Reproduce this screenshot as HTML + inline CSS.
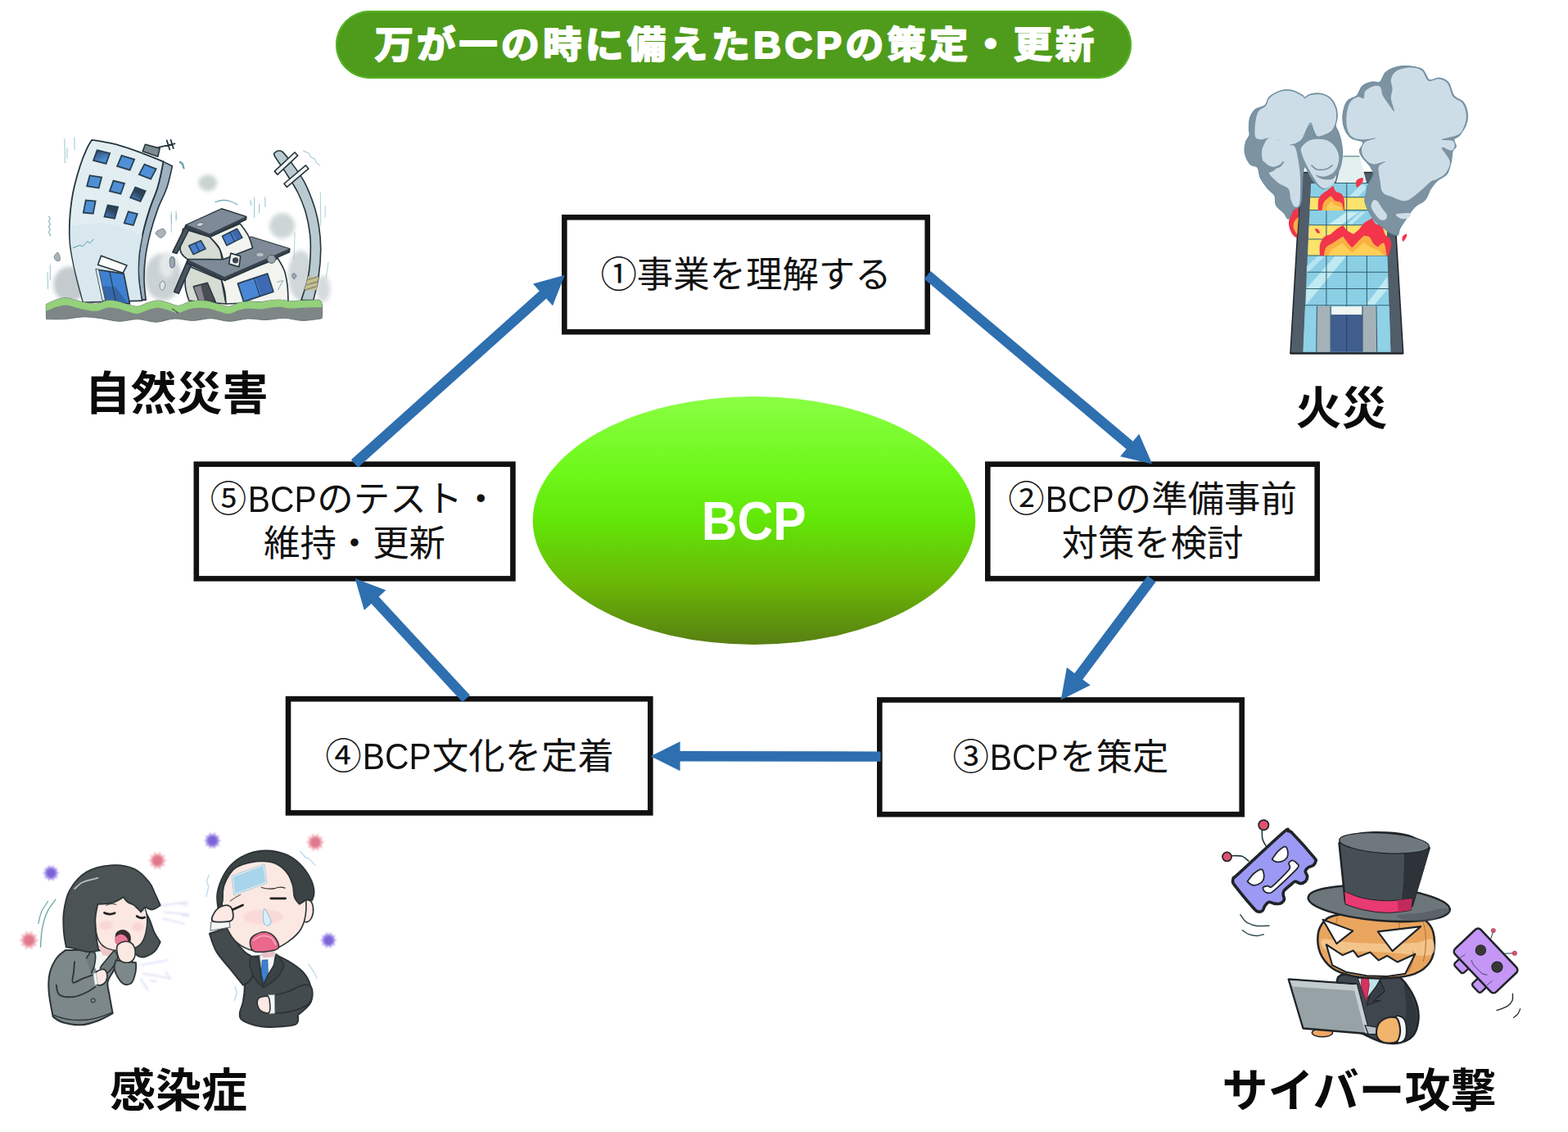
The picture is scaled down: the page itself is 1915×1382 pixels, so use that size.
<!DOCTYPE html>
<html lang="ja">
<head>
<meta charset="utf-8">
<title>万が一の時に備えたBCPの策定・更新</title>
<style>
html,body{margin:0;padding:0;background:#fff;}
body{width:1915px;height:1382px;overflow:hidden;position:relative;
  font-family:"Liberation Sans","Noto Sans CJK JP",sans-serif;color:#111;}
#stage{position:absolute;left:0;top:0;width:1915px;height:1382px;overflow:hidden;background:#fff;}
#geo{position:absolute;left:0;top:0;width:1915px;height:1382px;}
.pill{position:absolute;left:410px;top:13px;width:972px;height:83px;border-radius:42px;
  background:#4f9c1c;box-shadow:inset 0 0 0 2px #54b324;}
.box{position:absolute;display:flex;align-items:center;justify-content:center;text-align:center;
  font-weight:400;font-size:44.4px;line-height:54px;padding-top:2px;box-sizing:border-box;white-space:nowrap;color:#111;}
.lbl{position:absolute;font-weight:700;font-size:56px;line-height:60px;white-space:nowrap;color:#0a0a0a;}
.bcp{position:absolute;left:651px;top:484px;width:540px;height:303px;line-height:303px;text-align:center;
  color:#fff;font-weight:700;font-size:67px;}
.bcp span{display:inline-block;transform:scaleX(0.903);transform-origin:50% 50%;}
.box span{display:block;}
.box i{font-style:normal;display:inline-block;transform:scaleX(.92);margin:0 -2.5px;}
.ill{position:absolute;overflow:visible;}
</style>
</head>
<body>
<div id="stage">

<!-- geometric layer: boxes, ellipse, arrows -->
<svg id="geo" width="1915" height="1382" viewBox="0 0 1915 1382">
  <defs>
    <linearGradient id="eg" x1="0" y1="0" x2="0" y2="1">
      <stop offset="0" stop-color="#8aff45"/>
      <stop offset="0.3" stop-color="#6ef81a"/>
      <stop offset="0.5" stop-color="#62e608"/>
      <stop offset="0.75" stop-color="#6ab806"/>
      <stop offset="1" stop-color="#587f12"/>
    </linearGradient>
  </defs>
  <ellipse cx="921" cy="635.5" rx="270.3" ry="151.4" fill="url(#eg)"/>
  <g fill="#fff" stroke="#111" stroke-width="6.6">
    <rect x="689.3" y="265.3" width="443.4" height="139.9"/>
    <rect x="1206.3" y="566.7" width="402.4" height="139.7"/>
    <rect x="1074.3" y="854.5" width="442.4" height="139.7"/>
    <rect x="352" y="853.3" width="442.3" height="139.1"/>
    <rect x="239.8" y="566.7" width="386.6" height="139.7"/>
  </g>
  <g id="arrows" fill="#2e6fb0" stroke="none">
    <polygon points="437.2,570.7 667.2,364.5 675.0,373.2 689.8,335.8 651.0,346.4 658.8,355.2 428.8,561.3"/>
    <polygon points="1128.6,340.6 1375.6,548.2 1368.1,557.2 1407.2,566.6 1391.2,529.7 1383.7,538.7 1136.6,331.0"/>
    <polygon points="1401.5,703.0 1312.3,821.9 1302.9,814.8 1295.7,854.4 1331.7,836.4 1322.3,829.4 1411.5,710.6"/>
    <polygon points="1075.5,917.4 830.6,917.1 830.6,905.3 794.6,923.3 830.6,941.3 830.6,929.6 1075.5,929.8"/>
    <polygon points="574.0,848.8 462.6,728.5 471.3,720.5 433.6,706.3 444.8,744.9 453.5,737.0 564.8,857.2"/>
  </g>
</svg>

<svg class="ill" width="1915" height="1382" viewBox="0 0 1915 1382" style="left:0;top:0;">
<!-- QUAKE -->
<defs><filter id="qblur" x="-20%" y="-20%" width="140%" height="140%"><feGaussianBlur stdDeviation="14"/></filter><linearGradient id="wgA" x1="0" y1="0" x2="1" y2="1"><stop offset="0" stop-color="#2f4a66"/><stop offset="0.75" stop-color="#4f8fd6"/></linearGradient><linearGradient id="wgB" x1="0.6" y1="0" x2="0.3" y2="1"><stop offset="0.35" stop-color="#2e4257"/><stop offset="1" stop-color="#3f76b8"/></linearGradient></defs>
<g transform="translate(40 150) scale(0.18083)" >
<g filter="url(#qblur)">
<ellipse cx="250" cy="1090" rx="110" ry="120" fill="#c3cbce"/>
<ellipse cx="880" cy="1040" rx="125" ry="160" fill="#cbd2d5"/>
<ellipse cx="1182" cy="405" rx="62" ry="55" fill="#c8d3d1"/>
<ellipse cx="1685" cy="695" rx="85" ry="85" fill="#ccd6d5"/>
<ellipse cx="1810" cy="1030" rx="85" ry="170" fill="#d0d7d9"/>
<ellipse cx="1960" cy="1120" rx="50" ry="90" fill="#d5dbdd"/>
<ellipse cx="905" cy="960" rx="50" ry="90" fill="#e3e8e8"/>
</g>
<path d="M882 262C882 262 942 292 942 292C942 292 921.2 392 905 440C888.8 488 863.3 530 845 580C826.7 630 808.8 686.7 795 740C781.2 793.3 769.2 848.3 762 900C754.8 951.7 751.7 1000.8 752 1050C752.3 1099.2 764 1195 764 1195C764 1195 735 1195 735 1195C735 1195 718.8 1099.2 716 1050C713.2 1000.8 713.2 951.7 718 900C722.8 848.3 733 793.3 745 740C757 686.7 773.3 631.7 790 580C806.7 528.3 829.7 483 845 430C860.3 377 882 262 882 262Z" fill="#9db1c0" stroke="#27363d" stroke-width="9" stroke-linejoin="round"/>
<path d="M400 115C400 115 503.3 130 560 145C616.7 160 686.3 185.5 740 205C793.7 224.5 882 262 882 262C882 262 860.3 377 845 430C829.7 483 806.7 528.3 790 580C773.3 631.7 757 686.7 745 740C733 793.3 722.8 848.3 718 900C713.2 951.7 712.7 1000 716 1050C719.3 1100 738 1200 738 1200C738 1200 340 1212 340 1212C340 1212 299.7 1065.3 285 1000C270.3 934.7 257.8 878.3 252 820C246.2 761.7 246.7 708.3 250 650C253.3 591.7 260.3 530 272 470C283.7 410 304.5 339.2 320 290C335.5 240.8 351.7 204.2 365 175C378.3 145.8 400 115 400 115Z" fill="#e2edf2" stroke="#27363d" stroke-width="10" stroke-linejoin="round"/>
<path d="M255 700C255 700 419.2 670 500 680C580.8 690 740 760 740 760C740 760 720.3 851.7 716 900C711.7 948.3 711 1000.7 714 1050C717 1099.3 734 1196 734 1196C734 1196 342 1208 342 1208C342 1208 301.5 1064.7 287 1000C272.5 935.3 260.3 870 255 820C249.7 770 255 700 255 700Z" fill="#d7e6ee" opacity=".8"/>
<rect x="-44" y="-37" width="88" height="74" fill="url(#wgA)" stroke="#27404f" stroke-width="10" transform="translate(465 230) rotate(14) skewX(-6)"/>
<rect x="-45" y="-39" width="90" height="77" fill="#4f8fd6" stroke="#27404f" stroke-width="10" transform="translate(628 270) rotate(17) skewX(-6)"/>
<rect x="-42" y="-39" width="85" height="77" fill="#4f8fd6" stroke="#27404f" stroke-width="10" transform="translate(775 330) rotate(22) skewX(-6)"/>
<rect x="-40" y="-37" width="81" height="74" fill="#4f8fd6" stroke="#27404f" stroke-width="10" transform="translate(415 397) rotate(9) skewX(-6)"/>
<rect x="-39" y="-37" width="77" height="74" fill="#4f8fd6" stroke="#27404f" stroke-width="10" transform="translate(570 435) rotate(14) skewX(-6)"/>
<rect x="-36" y="-39" width="72" height="77" fill="url(#wgB)" stroke="#27404f" stroke-width="10" transform="translate(710 483) rotate(20) skewX(-6)"/>
<rect x="-33" y="-42" width="66" height="85" fill="#4f8fd6" stroke="#27404f" stroke-width="10" transform="translate(383 567) rotate(5) skewX(-6)"/>
<rect x="-35" y="-40" width="70" height="81" fill="url(#wgB)" stroke="#27404f" stroke-width="10" transform="translate(530 600) rotate(10) skewX(-6)"/>
<rect x="-31" y="-40" width="63" height="81" fill="#4f8fd6" stroke="#27404f" stroke-width="10" transform="translate(662 645) rotate(14) skewX(-6)"/>
<path d="M760 145L858 172L845 228L742 192Z" fill="#7c8a92" stroke="#27363d" stroke-width="9" stroke-linejoin="round"/>
<path d="M850 165 L960 140 M905 118 L925 180 M932 115 L950 172" stroke="#27363d" stroke-width="10" fill="none" stroke-linecap="round"/>
<path d="M430 990L615 1018L655 1222L475 1200Z" fill="#3f80d2" stroke="#27363d" stroke-width="9" stroke-linejoin="round"/>
<path d="M470 1100L560 1110L640 1215L480 1198Z" fill="#2f5c96" opacity=".7"/>
<path d="M518 1000 L560 1205" stroke="#27404f" stroke-width="7" fill="none"/>
<path d="M425 985L445 990L490 1200L470 1200Z" fill="#e2edf2" stroke="#27363d" stroke-width="4" stroke-linejoin="round"/>
<path d="M462 897L636 962L610 1013L440 958Z" fill="#fbfcfc" stroke="#27363d" stroke-width="9" stroke-linejoin="round"/>
<path d="M270 845 L320 825 L335 835 L370 800 L385 812 L412 785" stroke="#4f8f9a" stroke-width="5" fill="none" stroke-linejoin="round"/>
<path d="M1035 960C1035 960 1275 1060 1275 1060C1275 1060 1305 1222 1305 1222C1305 1222 1055 1200 1055 1200C1055 1200 1033.3 1140 1030 1100C1026.7 1060 1035 960 1035 960Z" fill="#d6dbd3" stroke="#27363d" stroke-width="9" stroke-linejoin="round"/>
<path d="M1275 1060C1275 1060 1655 915 1655 915C1655 915 1689.2 969.2 1700 1000C1710.8 1030.8 1715.8 1065.8 1720 1100C1724.2 1134.2 1725 1205 1725 1205C1725 1205 1305 1222 1305 1222C1305 1222 1302 1167 1297 1140C1292 1113 1275 1060 1275 1060Z" fill="#f3f4ef" stroke="#27363d" stroke-width="9" stroke-linejoin="round"/>
<path d="M1385 1085L1585 1018L1625 1140L1425 1208Z" fill="#4a86d6" stroke="#27404f" stroke-width="10" stroke-linejoin="round"/>
<path d="M1505 1050L1585 1020L1623 1138L1545 1165Z" fill="#35589a" opacity=".6"/>
<path d="M1495 1050 L1535 1170" stroke="#27404f" stroke-width="7" fill="none"/>
<path d="M1085 1105L1180 1080L1235 1210L1120 1200Z" fill="#4b4b54" stroke="#27363d" stroke-width="8" stroke-linejoin="round"/>
<path d="M1090 1110L1135 1098L1160 1200L1123 1198Z" fill="#8a8690"/>
<path d="M1045 928L955 1140L985 1152L1075 950Z" fill="#4a5561" stroke="#27363d" stroke-width="9" stroke-linejoin="round"/>
<path d="M1045 928L1475 770L1735 850L1733 872L1297 1065L1045 950Z" fill="#39424c" stroke="#27363d" stroke-width="9" stroke-linejoin="round"/>
<path d="M1053 925L1475 772L1730 850L1295 1040Z" fill="#7e8a97"/>
<path d="M1015 715C1015 715 1195 770 1195 770C1195 770 1246.3 824.7 1260 850C1273.7 875.3 1277 922 1277 922C1277 922 1045 920 1045 920C1045 920 1002 896.2 997 862C992 827.8 1015 715 1015 715Z" fill="#d6dbd3" stroke="#27363d" stroke-width="9" stroke-linejoin="round"/>
<path d="M1195 770C1195 770 1400 680 1400 680C1400 680 1440.8 732.5 1455 760C1469.2 787.5 1485 845 1485 845C1485 845 1285 922 1285 922C1285 922 1272 865.3 1257 840C1242 814.7 1195 770 1195 770Z" fill="#f3f4ef" stroke="#27363d" stroke-width="9" stroke-linejoin="round"/>
<path d="M1055 830L1135 795L1167 850L1085 888Z" fill="#4a7fd0" stroke="#27404f" stroke-width="9" stroke-linejoin="round"/>
<path d="M1097 812 L1125 868" stroke="#27404f" stroke-width="7" fill="none"/>
<path d="M1280 765L1380 715L1415 775L1310 828Z" fill="#4a7fd0" stroke="#27404f" stroke-width="9" stroke-linejoin="round"/>
<path d="M1345 735L1380 717L1413 775L1377 792Z" fill="#35589a" opacity=".6"/>
<path d="M1333 740 L1363 800" stroke="#27404f" stroke-width="7" fill="none"/>
<path d="M1035 690L945 873L973 882L1060 712Z" fill="#4a5561" stroke="#27363d" stroke-width="9" stroke-linejoin="round"/>
<path d="M1035 690L1275 580L1442 633L1440 652L1197 770L1035 712Z" fill="#39424c" stroke="#27363d" stroke-width="9" stroke-linejoin="round"/>
<path d="M1043 688L1275 583L1435 634L1195 748Z" fill="#7e8a97"/>
<ellipse cx="1130" cy="686" rx="24" ry="13" fill="#c9d0d4" stroke="#4a5561" stroke-width="4" transform="rotate(-12 1130 686)"/>
<ellipse cx="1535" cy="890" rx="26" ry="15" fill="#b5bec5" stroke="#6a7580" stroke-width="4"/>
<circle cx="1612" cy="920" r="28" fill="#96a2a8" stroke="#4a5561" stroke-width="5"/>
<path d="M1337 880L1403 900L1393 972L1325 952Z" fill="#eef1f0" stroke="#27363d" stroke-width="9" stroke-linejoin="round"/>
<circle cx="1369" cy="928" r="20" fill="#3c434a"/>
<path d="M1650 1075 L1690 1065 L1675 1095 L1655 1130" stroke="#5a8f98" stroke-width="4" fill="none"/>
<path d="M1633 222C1622.2 200 1634.7 203.7 1640 198C1645.3 192.3 1656.5 187.7 1665 188C1673.5 188.3 1676 184.7 1691 200C1706 215.3 1731 246.7 1755 280C1779 313.3 1810.8 353.3 1835 400C1859.2 446.7 1883.7 510 1900 560C1916.3 610 1925.5 650 1933 700C1940.5 750 1945.5 803.3 1945 860C1944.5 916.7 1938.3 983.7 1930 1040C1921.7 1096.3 1895 1198 1895 1198C1895 1198 1813 1198 1813 1198C1813 1198 1849.7 1089.7 1860 1040C1870.3 990.3 1872.8 946.7 1875 900C1877.2 853.3 1878 808.3 1873 760C1868 711.7 1858.8 658.3 1845 610C1831.2 561.7 1813.3 516.7 1790 470C1766.7 423.3 1731.2 371.3 1705 330C1678.8 288.7 1643.8 244 1633 222Z" fill="#b9cbd1" stroke="#27363d" stroke-width="9" stroke-linejoin="round"/>
<path d="M1860 1035L1931 1040L1915 1130L1835 1125Z" fill="#c7c08a" stroke="none"/>
<path d="M1853 1060 L1925 1040 M1845 1095 L1923 1072 M1840 1128 L1915 1105" stroke="#8a8d80" stroke-width="9" fill="none"/>
<path d="M1653.2 349L1790.2 221L1769.8 199L1632.8 327Z" fill="#f1f5f5" stroke="#27363d" stroke-width="9" stroke-linejoin="round"/>
<path d="M1716.7 433.4L1862.7 309.4L1843.3 286.6L1697.3 410.6Z" fill="#f1f5f5" stroke="#27363d" stroke-width="9" stroke-linejoin="round"/>
<path d="M832 738C837.8 729.7 869.2 713.8 880 715C890.8 716.2 898.7 735 897 745C895.3 755 878.7 771.7 870 775C861.3 778.3 851.3 771.2 845 765C838.7 758.8 826.2 746.3 832 738Z" fill="#aab4b9" stroke="#6f7f88" stroke-width="5"/>
<path d="M145 905C146.7 895.8 163.3 871.7 170 875C176.7 878.3 186.7 915.8 185 925C183.3 934.2 166.7 933.3 160 930C153.3 926.7 143.3 914.2 145 905Z" fill="#aab4b9" stroke="#6f7f88" stroke-width="5"/>
<path d="M928 912C932.2 901.7 950.2 900.3 955 910C959.8 919.7 961.2 959.7 957 970C952.8 980.3 934.8 981.7 930 972C925.2 962.3 923.8 922.3 928 912Z" fill="#b5a8b8" stroke="#6f7f88" stroke-width="5"/>
<path d="M860 1085C863.3 1077.2 874.2 1066.3 880 1068C885.8 1069.7 895.3 1084.7 895 1095C894.7 1105.3 883.8 1126.7 878 1130C872.2 1133.3 863 1122.5 860 1115C857 1107.5 856.7 1092.8 860 1085Z" fill="#dfe5e6" stroke="#6f7f88" stroke-width="5"/>
<path d="M927 915C930.8 905 948.3 902.8 953 912C957.7 921.2 958.8 960 955 970C951.2 980 934.7 981.2 930 972C925.3 962.8 923.2 925 927 915Z" fill="#9aa5b5" stroke="#6f7f88" stroke-width="5"/>
<path d="M1750 1030C1750 1023.3 1760 1014.2 1765 1015C1770 1015.8 1780 1028.3 1780 1035C1780 1041.7 1770 1055.8 1765 1055C1760 1054.2 1750 1036.7 1750 1030Z" fill="#9aa5b5" stroke="#6f7f88" stroke-width="5"/>
<path d="M215 110 L218 270 M281 100 L283 182 M232 170 L232 240 M100 1010 L103 1120 M118 960 L118 1060" stroke="#6aa9b2" stroke-width="5" fill="none" stroke-linecap="round" opacity=".75"/>
<path d="M108 630 l10 18 l-10 18 l10 18 l-10 18 l10 18 l-10 18 l14 26" stroke="#4f8f9a" stroke-width="5" fill="none" stroke-linejoin="round"/>
<path d="M990 265 l20 18 l10 28" stroke="#4f8f9a" stroke-width="6" fill="none"/>
<path d="M935 620 L937 740 M968 595 L968 660" stroke="#6aa9b2" stroke-width="5" fill="none" opacity=".7"/>
<path d="M1230 535C1239.2 532.8 1267.5 522.8 1285 522C1302.5 521.2 1318.7 525 1335 530C1351.3 535 1375 548.3 1383 552" stroke="#6aa9b2" stroke-width="6" fill="none"/>
<path d="M1497 505 L1497 640 M1570 500 L1570 570 M1470 520 L1477 560 M1530 545 L1530 610" stroke="#6aa9b2" stroke-width="5" fill="none" opacity=".8"/>
<path d="M1825 188 l40 18 l10 22 l30 18 l12 25 l25 18" stroke="#6aa9b2" stroke-width="5" fill="none" opacity=".8"/>
<path d="M1943 470 L1945 700 M1975 560 L1975 640 M1997 940 L1980 1050 M1770 740 L1765 920" stroke="#6aa9b2" stroke-width="5" fill="none" opacity=".6"/>
<path d="M990 260 l22 10 l12 40" stroke="#4f8f9a" stroke-width="6" fill="none"/>
<path d="M935 600 L937 680 M970 615 L970 650" stroke="#6aa9b2" stroke-width="5" fill="none" opacity=".6"/>
<path d="M90 1225C90 1225 135.8 1202.2 158.7 1195C181.6 1187.8 204.5 1181.2 227.4 1182C250.3 1182.8 273.2 1194.5 296.1 1200C319 1205.5 341.9 1211.3 364.8 1215C387.7 1218.7 410.6 1224.5 433.5 1222C456.4 1219.5 479.3 1202.8 502.2 1200C525.1 1197.2 548 1200.8 570.9 1205C593.8 1209.2 616.7 1219.2 639.6 1225C662.5 1230.8 685.4 1241.7 708.3 1240C731.2 1238.3 754.1 1221.7 777 1215C799.9 1208.3 822.8 1200 845.7 1200C868.6 1200 891.5 1209.2 914.4 1215C937.3 1220.8 960.2 1235.8 983.1 1235C1006 1234.2 1029 1215.8 1051.9 1210C1074.8 1204.2 1097.7 1200.8 1120.6 1200C1143.5 1199.2 1166.4 1200.8 1189.3 1205C1212.2 1209.2 1235.1 1219.2 1258 1225C1280.9 1230.8 1303.8 1241.7 1326.7 1240C1349.6 1238.3 1372.5 1220.8 1395.4 1215C1418.3 1209.2 1441.2 1205.8 1464.1 1205C1487 1204.2 1509.9 1210.8 1532.8 1210C1555.7 1209.2 1578.6 1202.5 1601.5 1200C1624.4 1197.5 1647.3 1194.2 1670.2 1195C1693.1 1195.8 1716 1204.2 1738.9 1205C1761.8 1205.8 1784.7 1201.2 1807.6 1200C1830.5 1198.8 1853.7 1198 1876.3 1198C1898.9 1198 1929.9 1189.7 1943 1200C1956.1 1210.3 1953.3 1240 1955 1260C1956.7 1280 1953 1320 1953 1320C1953 1320 1865.5 1335.3 1823.2 1335C1780.9 1334.7 1740.7 1318.8 1699.4 1318C1658.1 1317.2 1616.9 1329.3 1575.6 1330C1534.3 1330.7 1493.1 1320.3 1451.8 1322C1410.5 1323.7 1369.3 1340.3 1328 1340C1286.7 1339.7 1245.5 1320.8 1204.2 1320C1162.9 1319.2 1121.7 1334.7 1080.4 1335C1039.1 1335.3 997.9 1320.3 956.6 1322C915.3 1323.7 874.1 1344.5 832.8 1345C791.5 1345.5 750.3 1325.8 709 1325C667.7 1324.2 626.5 1340.8 585.2 1340C543.9 1339.2 502.7 1325 461.4 1320C420.1 1315 378.9 1309.2 337.6 1310C296.3 1310.8 254.7 1322.5 213.8 1325C172.9 1327.5 92 1325 92 1325C92 1325 90 1225 90 1225Z" fill="#7e8786" stroke="#5f6b6c" stroke-width="5" stroke-linejoin="round"/>
<path d="M90 1225C90 1225 135.8 1202.2 158.7 1195C181.6 1187.8 204.5 1181.2 227.4 1182C250.3 1182.8 273.2 1194.5 296.1 1200C319 1205.5 341.9 1211.3 364.8 1215C387.7 1218.7 410.6 1224.5 433.5 1222C456.4 1219.5 479.3 1202.8 502.2 1200C525.1 1197.2 548 1200.8 570.9 1205C593.8 1209.2 616.7 1219.2 639.6 1225C662.5 1230.8 685.4 1241.7 708.3 1240C731.2 1238.3 754.1 1221.7 777 1215C799.9 1208.3 822.8 1200 845.7 1200C868.6 1200 891.5 1209.2 914.4 1215C937.3 1220.8 960.2 1235.8 983.1 1235C1006 1234.2 1029 1215.8 1051.9 1210C1074.8 1204.2 1097.7 1200.8 1120.6 1200C1143.5 1199.2 1166.4 1200.8 1189.3 1205C1212.2 1209.2 1235.1 1219.2 1258 1225C1280.9 1230.8 1303.8 1241.7 1326.7 1240C1349.6 1238.3 1372.5 1220.8 1395.4 1215C1418.3 1209.2 1441.2 1205.8 1464.1 1205C1487 1204.2 1509.9 1210.8 1532.8 1210C1555.7 1209.2 1578.6 1202.5 1601.5 1200C1624.4 1197.5 1647.3 1194.2 1670.2 1195C1693.1 1195.8 1716 1204.2 1738.9 1205C1761.8 1205.8 1784.7 1201.2 1807.6 1200C1830.5 1198.8 1853.7 1198 1876.3 1198C1898.9 1198 1930.5 1192.2 1943 1200C1955.5 1207.8 1951 1245 1951 1245C1951 1245 1900.2 1245.5 1876.3 1246C1852.4 1246.5 1830.5 1246.8 1807.6 1248C1784.7 1249.2 1761.8 1253.8 1738.9 1253C1716 1252.2 1693.1 1243.8 1670.2 1243C1647.3 1242.2 1624.4 1245.5 1601.5 1248C1578.6 1250.5 1555.7 1257.2 1532.8 1258C1509.9 1258.8 1487 1252.2 1464.1 1253C1441.2 1253.8 1418.3 1257.2 1395.4 1263C1372.5 1268.8 1349.6 1286.3 1326.7 1288C1303.8 1289.7 1280.9 1278.8 1258 1273C1235.1 1267.2 1212.2 1257.2 1189.3 1253C1166.4 1248.8 1143.5 1247.2 1120.6 1248C1097.7 1248.8 1074.8 1252.2 1051.9 1258C1029 1263.8 1006 1282.2 983.1 1283C960.2 1283.8 937.3 1268.8 914.4 1263C891.5 1257.2 868.6 1248 845.7 1248C822.8 1248 799.9 1256.3 777 1263C754.1 1269.7 731.2 1286.3 708.3 1288C685.4 1289.7 662.5 1278.8 639.6 1273C616.7 1267.2 593.8 1257.2 570.9 1253C548 1248.8 525.1 1245.2 502.2 1248C479.3 1250.8 456.4 1267.5 433.5 1270C410.6 1272.5 387.7 1266.7 364.8 1263C341.9 1259.3 319 1253.5 296.1 1248C273.2 1242.5 250.3 1230.8 227.4 1230C204.5 1229.2 181.3 1236.3 158.7 1243C136.1 1249.7 92 1270 92 1270C92 1270 90 1225 90 1225Z" fill="#93d27b"/>
<path d="M945 1255 l35 30 M940 1255 l45 28" stroke="#4f5a5a" stroke-width="6" fill="none"/>
</g>

<!-- FIRE: building (zoom coords origin 1540,200 scale 1/5.759) -->
<g transform="translate(1540 200) scale(0.17364)">
  <!-- roof cap behind smoke -->
  <!-- outer body -->
  <path d="M207 1333 L283 60 L924 60 L1000 1333 Z" fill="#515d69" stroke="#22272c" stroke-width="9" stroke-linejoin="miter"/>
  <!-- glass panel -->
  <path d="M296 1322 L352 135 L873 135 L912 1322 Z" fill="#8bcfe5"/>
  <path d="M528 135 L578 -53 L694 -53 L744 135 Z" fill="#e3f0ee"/>
  <path d="M578 -53 L694 -53" stroke="#5c8a8c" stroke-width="7"/>
  <!-- yellow burning floors -->
  <path d="M347 235 L343 325 L880 325 L877 235 Z" fill="#fbe36c"/>
  <path d="M338 430 L330 645 L890 645 L884 430 Z" fill="#fbe36c"/>
  <!-- glass highlights -->
  <g fill="#c9edf5">
    <path d="M470 430 L600 340 L690 340 L560 430 Z"/>
    <path d="M610 420 L700 340 L735 340 L640 425 Z" opacity=".8"/>
    <path d="M318 880 L520 650 L600 650 L318 990 Z" opacity=".85"/>
    <path d="M322 720 L400 650 L450 650 L320 775 Z" opacity=".7"/>
    <path d="M740 990 L890 790 L892 880 L800 990 Z" opacity=".85"/>
    <path d="M620 230 L700 150 L735 150 L735 180 L680 235 Z" opacity=".8"/>
  </g>
  <!-- grid lines -->
  <g stroke="#2f6170" stroke-width="6" fill="none">
    <path d="M350 135 H873 M345 235 H877 M340 325 H880 M336 430 H884 M332 530 H600 M328 645 H890 M322 762 H895 M316 878 H900 M310 995 H905"/>
    <path d="M460 330 V1000 M603 135 V1000 M745 645 V1000"/>
  </g>
  <!-- ground floor -->
  <path d="M298 1322 L311 1000 L392 1000 L388 1322 Z" fill="#8fd1e6"/>
  <path d="M392 1322 L398 1000 L490 1000 L488 1322 Z" fill="#a4b2b7"/>
  <path d="M715 1322 L713 1000 L808 1000 L815 1322 Z" fill="#a4b2b7"/>
  <path d="M818 1322 L812 1000 L902 1000 L912 1322 Z" fill="#8fd1e6"/>
  <rect x="492" y="1060" width="221" height="262" fill="#3f5d8d"/>
  <rect x="497" y="1004" width="212" height="56" fill="#f1f6f4"/>
  <g stroke="#2b3f52" stroke-width="5" fill="none">
    <path d="M603 1060 V1322 M490 1000 V1322 M714 1000 V1322 M394 1000 L390 1322 M812 1000 L816 1322"/>
  </g>
  <path d="M207 1333 H1000" stroke="#1c2024" stroke-width="12"/>
</g>

<!-- FIRE: flames -->
<g transform="translate(1570 210) scale(0.07957)" >
<path d="M205 520C205 520 135.8 536.7 110 580C84.2 623.3 52.5 720 50 780C47.5 840 74.2 900.8 95 940C115.8 979.2 175 1015 175 1015C175 1015 205 520 205 520Z" fill="#f2354b"/>
<path d="M200 690C200 690 147.5 731.7 135 760C122.5 788.3 117.5 826.7 125 860C132.5 893.3 180 960 180 960C180 960 200 690 200 690Z" fill="#fbb043"/>
<path d="M500 590C500 590 495 471.7 505 430C515 388.3 535.8 365.8 560 340C584.2 314.2 620.8 296.3 650 275C679.2 253.7 735 212 735 212C735 212 749.2 274.5 770 295C790.8 315.5 838.3 314.2 860 335C881.7 355.8 892 377.5 900 420C908 462.5 908 590 908 590C908 590 500 590 500 590Z" fill="#f2354b"/>
<path d="M560 590C560 590 565.8 510.8 580 480C594.2 449.2 624.7 423.7 645 405C665.3 386.3 702 368 702 368C702 368 733.7 422.2 760 440C786.3 457.8 838 450 860 475C882 500 892 590 892 590C892 590 560 590 560 590Z" fill="#fbb043"/>
<path d="M620 590C620 590 635.8 533.3 650 510C664.2 486.7 705 450 705 450C705 450 745.8 495 770 510C794.2 525 833.3 526.7 850 540C866.7 553.3 870 590 870 590C870 590 620 590 620 590Z" fill="#fdd45c" opacity=".8"/>
<path d="M528 1282C528 1282 517.7 1167 528 1120C538.3 1073 563 1027 590 1000C617 973 690 958 690 958C690 958 748 903.3 780 880C812 856.7 882 818 882 818C882 818 923.7 877.7 950 900C976.3 922.3 1040 952 1040 952C1040 952 1103.3 907 1130 880C1156.7 853 1166.3 818.7 1200 790C1233.7 761.3 1332 708 1332 708C1332 708 1359.5 776 1385 795C1410.5 814 1485 822 1485 822C1485 822 1515.8 933.3 1535 965C1554.2 996.7 1600 1012 1600 1012C1600 1012 1628 1075 1625 1120C1622 1165 1582 1282 1582 1282C1582 1282 528 1282 528 1282Z" fill="#f2354b"/>
<path d="M590 1282C590 1282 598.3 1191.7 620 1160C641.7 1128.3 720 1092 720 1092C720 1092 773 1057.3 800 1040C827 1022.7 882 988 882 988C882 988 926.7 1051 950 1080C973.3 1109 1022 1162 1022 1162C1022 1162 1070.3 1110.7 1100 1080C1129.7 1049.3 1200 978 1200 978C1200 978 1265 979.7 1290 1000C1315 1020.3 1328.3 1074.7 1350 1100C1371.7 1125.3 1420 1152 1420 1152C1420 1152 1490 1070.3 1512 1092C1534 1113.7 1552 1282 1552 1282C1552 1282 590 1282 590 1282Z" fill="#fbb043"/>
<path d="M660 1282C660 1282 676.7 1225.3 700 1200C723.3 1174.7 770 1148.3 800 1130C830 1111.7 880 1090 880 1090C880 1090 925.8 1145 950 1170C974.2 1195 1025 1240 1025 1240C1025 1240 1079.2 1186.7 1110 1160C1140.8 1133.3 1210 1080 1210 1080C1210 1080 1265 1130 1300 1150C1335 1170 1383.3 1178 1420 1200C1456.7 1222 1520 1282 1520 1282C1520 1282 660 1282 660 1282Z" fill="#fdd45c" opacity=".85"/>
<path d="M1085 215C1081.7 198 1074.2 151.2 1090 130C1105.8 108.8 1164.2 84.7 1180 88C1195.8 91.3 1196.7 126 1185 150C1173.3 174 1126.7 221.2 1110 232C1093.3 242.8 1088.3 232 1085 215Z" fill="#f2354b"/>
<path d="M1790 1040C1788 1027.2 1788.7 1000.3 1800 985C1811.3 969.7 1848.8 945.5 1858 948C1867.2 950.5 1862.7 981 1855 1000C1847.3 1019 1822.8 1055.3 1812 1062C1801.2 1068.7 1792 1052.8 1790 1040Z" fill="#f2354b"/>
<path d="M455 870C458.3 861.7 487.8 869.2 500 880C512.2 890.8 531.3 926.7 528 935C524.7 943.3 492.2 940.8 480 930C467.8 919.2 451.7 878.3 455 870Z" fill="#f2354b"/>
</g>
<!-- FIRE: smoke -->
<g transform="translate(1500 70) scale(0.16711)" >
<path d="M270 350C286.7 335 281.7 307.5 300 290C318.3 272.5 353.3 253.3 380 245C406.7 236.7 433.3 235 460 240C486.7 245 523.3 266.2 540 275C556.7 283.8 550 293.8 560 293C570 292.2 580 274.7 600 270C620 265.3 655 260 680 265C705 270 731.7 282.5 750 300C768.3 317.5 782.2 346.7 790 370C797.8 393.3 797.8 418.3 797 440C796.2 461.7 783.7 482.5 785 500C786.3 517.5 798.3 526.7 805 545C811.7 563.3 820 584.2 825 610C830 635.8 835 671.7 835 700C835 728.3 830.8 755 825 780C819.2 805 809.2 830 800 850C790.8 870 780 885 770 900C760 915 751.7 929.7 740 940C728.3 950.3 713.3 962 700 962C686.7 962 673.3 950.3 660 940C646.7 929.7 631.7 915 620 900C608.3 885 600 866.7 590 850C580 833.3 567.5 798.3 560 800C552.5 801.7 548.3 835 545 860C541.7 885 541.7 920 540 950C538.3 980 539.2 1015.8 535 1040C530.8 1064.2 524.2 1083.3 515 1095C505.8 1106.7 492.5 1095.8 480 1110C467.5 1124.2 451.7 1175 440 1180C428.3 1185 425 1156.7 410 1140C395 1123.3 361.7 1101.7 350 1080C338.3 1058.3 350 1030 340 1010C330 990 307.5 981.7 290 960C272.5 938.3 247.5 905.8 235 880C222.5 854.2 227.5 821.7 215 805C202.5 788.3 175.5 797.5 160 780C144.5 762.5 127.3 726.7 122 700C116.7 673.3 122.5 641.7 128 620C133.5 598.3 151 586.7 155 570C159 553.3 151.2 541.7 152 520C152.8 498.3 152 463.3 160 440C168 416.7 181.7 395 200 380C218.3 365 253.3 365 270 350Z" fill="#7d93a1" stroke="#6d8fa5" stroke-width="7" stroke-linejoin="round"/>
<path d="M275 355C288.3 339.2 287.5 312.2 305 295C322.5 277.8 354.2 260 380 252C405.8 244 433.3 242 460 247C486.7 252 523.3 273.2 540 282C556.7 290.8 550 300.8 560 300C570 299.2 580 281.7 600 277C620 272.3 655.8 267.3 680 272C704.2 276.7 727.8 288.3 745 305C762.2 321.7 775.5 349.5 783 372C790.5 394.5 790.8 419.5 790 440C789.2 460.5 784.7 478.3 778 495C771.3 511.7 763 528.3 750 540C737 551.7 716.7 559.2 700 565C683.3 570.8 663.3 582.5 650 575C636.7 567.5 628.3 534.2 620 520C611.7 505.8 607.5 488.3 600 490C592.5 491.7 583.3 513.3 575 530C566.7 546.7 562.5 574.2 550 590C537.5 605.8 515.8 616.7 500 625C484.2 633.3 475 642.5 455 640C435 637.5 405.8 618.3 380 610C354.2 601.7 323.3 591.7 300 590C276.7 588.3 256.7 600.8 240 600C223.3 599.2 207.5 598.3 200 585C192.5 571.7 194.2 544.2 195 520C195.8 495.8 200 461.7 205 440C210 418.3 213.3 404.2 225 390C236.7 375.8 261.7 370.8 275 355Z" fill="#cddde7"/>
<path d="M300 590C280 595 269.2 621.7 260 640C250.8 658.3 244.7 678.3 245 700C245.3 721.7 247.8 753.3 262 770C276.2 786.7 308.7 798.3 330 800C351.3 801.7 390 775 390 780C390 785 345 818.3 330 830C315 841.7 293.3 835 300 850C306.7 865 346.7 901.7 370 920C393.3 938.3 425.3 940 440 960C454.7 980 450.5 1018.3 458 1040C465.5 1061.7 474.7 1084.2 485 1090C495.3 1095.8 513 1096.7 520 1075C527 1053.3 526.2 997.5 527 960C527.8 922.5 527.8 886.7 525 850C522.2 813.3 515.8 771.7 510 740C504.2 708.3 499.2 677.5 490 660C480.8 642.5 473.3 643.3 455 635C436.7 626.7 405.8 617.5 380 610C354.2 602.5 320 585 300 590Z" fill="#cddde7"/>
<path d="M255 765C264.2 771.7 290.8 799.2 310 805C329.2 810.8 354.7 806.7 370 800C385.3 793.3 396.7 770.8 402 765" fill="none" stroke="#7d93a1" stroke-width="12" stroke-linecap="round"/>
<path d="M535 660C545 642.5 572.5 615 600 605C627.5 595 671.7 594.2 700 600C728.3 605.8 752 620.8 770 640C788 659.2 803 690 808 715C813 740 807.2 768.3 800 790C792.8 811.7 781.7 831.7 765 845C748.3 858.3 720.8 867.5 700 870C679.2 872.5 641.7 856.7 640 860C638.3 863.3 670 885 690 890C710 895 743.3 895 760 890C776.7 885 786.7 856.7 790 860C793.3 863.3 788.3 895.8 780 910C771.7 924.2 753.3 937 740 945C726.7 953 713.3 960.5 700 958C686.7 955.5 672.5 943 660 930C647.5 917 636.7 898.3 625 880C613.3 861.7 600.8 840 590 820C579.2 800 568.3 778.3 560 760C551.7 741.7 544.2 726.7 540 710C535.8 693.3 525 677.5 535 660Z" fill="#cddde7"/>
<path d="M610 790C616.7 795 631.7 815.8 650 820C668.3 824.2 701.7 820 720 815C738.3 810 753.3 794.2 760 790" fill="none" stroke="#7d93a1" stroke-width="10" stroke-linecap="round"/>
<path d="M455 640C462.5 638.3 485.8 636.7 500 630C514.2 623.3 530 611.7 540 600C550 588.3 550 580 560 560C570 540 589.2 483.3 600 480C610.8 476.7 617.5 522.5 625 540C632.5 557.5 641.7 577.5 645 585" fill="none" stroke="#6d8fa5" stroke-width="7" stroke-linecap="round"/>
<path d="M1110 180C1126.7 168.3 1130 128.3 1150 110C1170 91.7 1200 77.5 1230 70C1260 62.5 1298.3 61.7 1330 65C1361.7 68.3 1396.7 73.3 1420 90C1443.3 106.7 1450 155 1470 165C1490 175 1516.7 146.7 1540 150C1563.3 153.3 1591.7 163.3 1610 185C1628.3 206.7 1631.7 255.8 1650 280C1668.3 304.2 1703.3 306.7 1720 330C1736.7 353.3 1747.5 391.7 1750 420C1752.5 448.3 1745 475 1735 500C1725 525 1704.2 553.3 1690 570C1675.8 586.7 1654.2 586.7 1650 600C1645.8 613.3 1666.7 635.8 1665 650C1663.3 664.2 1645.8 666.7 1640 685C1634.2 703.3 1636.7 732.5 1630 760C1623.3 787.5 1616.7 826.7 1600 850C1583.3 873.3 1550 881.7 1530 900C1510 918.3 1495 936.7 1480 960C1465 983.3 1456.7 1020 1440 1040C1423.3 1060 1395 1068.7 1380 1080C1365 1091.3 1363.3 1091.3 1350 1108C1336.7 1124.7 1315.8 1156.3 1300 1180C1284.2 1203.7 1265 1230.3 1255 1250C1245 1269.7 1249.2 1291.3 1240 1298C1230.8 1304.7 1215 1296.7 1200 1290C1185 1283.3 1173.3 1276.7 1150 1258C1126.7 1239.3 1085 1211.3 1060 1178C1035 1144.7 1008.3 1089.3 1000 1058C991.7 1026.7 1006.7 1010 1010 990C1013.3 970 1011.7 960 1020 938C1028.3 916 1056.7 881 1060 858C1063.3 835 1053.3 821.3 1040 800C1026.7 778.7 993.3 750 980 730C966.7 710 959.2 698.3 960 680C960.8 661.7 995 635 985 620C975 605 922.5 606.7 900 590C877.5 573.3 860.3 548.3 850 520C839.7 491.7 834.7 453.3 838 420C841.3 386.7 853 343.3 870 320C887 296.7 921.7 298.3 940 280C958.3 261.7 961.7 226.7 980 210C998.3 193.3 1028.3 185 1050 180C1071.7 175 1093.3 191.7 1110 180Z" fill="#7d93a1" stroke="#6d8fa5" stroke-width="7" stroke-linejoin="round"/>
<path d="M1200 230C1200 206.7 1185 181.7 1190 160C1195 138.3 1206.7 114.2 1230 100C1253.3 85.8 1299.2 75.5 1330 75C1360.8 74.5 1392.8 80.8 1415 97C1437.2 113.2 1442.2 161.8 1463 172C1483.8 182.2 1516.7 155 1540 158C1563.3 161 1586 168.8 1603 190C1620 211.2 1623.8 260.8 1642 285C1660.2 309.2 1695.7 312.5 1712 335C1728.3 357.5 1737.5 393.3 1740 420C1742.5 446.7 1736.2 471.3 1727 495C1717.8 518.7 1712.8 544.5 1685 562C1657.2 579.5 1567.5 592 1560 600C1552.5 608 1624.2 601.7 1640 610C1655.8 618.3 1656.7 638.3 1655 650C1653.3 661.7 1645.8 678.3 1630 680C1614.2 681.7 1561.7 646.7 1560 660C1558.3 673.3 1615 729.2 1620 760C1625 790.8 1605.8 823.3 1590 845C1574.2 866.7 1543.3 879.5 1525 890C1506.7 900.5 1500.8 893 1480 908C1459.2 923 1430 956.7 1400 980C1370 1003.3 1333.3 1041.3 1300 1048C1266.7 1054.7 1228.3 1030 1200 1020C1171.7 1010 1145 1008 1130 988C1115 968 1115 931.3 1110 900C1105 868.7 1093.3 823.3 1100 800C1106.7 776.7 1156.7 763.3 1150 760C1143.3 756.7 1085 783.3 1060 780C1035 776.7 1014.2 756.7 1000 740C985.8 723.3 975 700 975 680C975 660 982.5 635 1000 620C1017.5 605 1083.3 593.3 1080 590C1076.7 586.7 1009.2 601.7 980 600C950.8 598.3 923.3 593.3 905 580C886.7 566.7 876.7 546.7 870 520C863.3 493.3 861.7 451.7 865 420C868.3 388.3 876.7 351.7 890 330C903.3 308.3 928.3 295 945 290C961.7 285 980.8 306.7 990 300C999.2 293.3 990 264.2 1000 250C1010 235.8 1031.7 220.8 1050 215C1068.3 209.2 1096.7 204.2 1110 215C1123.3 225.8 1120 259.2 1130 280C1140 300.8 1155.8 320.8 1170 340C1184.2 359.2 1211.7 401.7 1215 395C1218.3 388.3 1192.5 327.5 1190 300C1187.5 272.5 1200 253.3 1200 230Z" fill="#cddde7"/>
<path d="M1060 1045C1067.5 1038.3 1078.3 1039.2 1090 1050C1101.7 1060.8 1118.3 1093.3 1130 1110C1141.7 1126.7 1156.7 1137.5 1160 1150C1163.3 1162.5 1158.3 1179.2 1150 1185C1141.7 1190.8 1123.3 1192.5 1110 1185C1096.7 1177.5 1080.8 1155.8 1070 1140C1059.2 1124.2 1046.7 1105.8 1045 1090C1043.3 1074.2 1052.5 1051.7 1060 1045Z" fill="#cddde7"/>
<path d="M1225 1150C1225 1143.3 1252.5 1141.7 1270 1140C1287.5 1138.3 1321.7 1135 1330 1140C1338.3 1145 1330 1163.3 1320 1170C1310 1176.7 1285.8 1183.3 1270 1180C1254.2 1176.7 1225 1156.7 1225 1150Z" fill="#cddde7"/>
</g>

<!-- SICK -->
<defs><filter id="vblur" x="-30%" y="-30%" width="160%" height="160%"><feGaussianBlur stdDeviation="4"/></filter></defs>
<g transform="translate(10 1000) scale(0.20263)" >
<path d="M308 325L290.3 335.5L298.5 354.4L278 352.5L273.5 372.6L258 359L242.5 372.6L238 352.5L217.5 354.4L225.7 335.5L208 325L225.7 314.5L217.5 295.6L238 297.5L242.5 277.4L258 291L273.5 277.4L278 297.5L298.5 295.6L290.3 314.5Z" fill="#9a84e6" opacity=".85" filter="url(#vblur)"/>
<circle cx="258" cy="325" r="28" fill="#7c63d8" filter="url(#vblur)"/>
<path d="M956 250L936.2 261.8L945.3 282.9L922.4 280.8L917.3 303.3L900 288.1L882.7 303.3L877.6 280.8L854.7 282.9L863.8 261.8L844 250L863.8 238.2L854.7 217.1L877.6 219.2L882.7 196.7L900 211.9L917.3 196.7L922.4 219.2L945.3 217.1L936.2 238.2Z" fill="#f0a3ae" opacity=".85" filter="url(#vblur)"/>
<circle cx="900" cy="250" r="31" fill="#e0788c" filter="url(#vblur)"/>
<path d="M183 730L162.5 742.2L171.9 764.1L148.2 761.9L142.9 785.2L125 769.4L107.1 785.2L101.8 761.9L78.1 764.1L87.5 742.2L67 730L87.5 717.8L78.1 695.9L101.8 698.1L107.1 674.8L125 690.6L142.9 674.8L148.2 698.1L171.9 695.9L162.5 717.8Z" fill="#f0a3ae" opacity=".85" filter="url(#vblur)"/>
<circle cx="125" cy="730" r="32" fill="#e0788c" filter="url(#vblur)"/>
<path d="M1282.7 130L1264.3 140.9L1272.8 160.6L1251.5 158.6L1246.8 179.5L1230.7 165.4L1214.6 179.5L1209.9 158.6L1188.6 160.6L1197.1 140.9L1178.7 130L1197.1 119.1L1188.6 99.4L1209.9 101.4L1214.6 80.5L1230.7 94.6L1246.8 80.5L1251.5 101.4L1272.8 99.4L1264.3 119.1Z" fill="#9a84e6" opacity=".85" filter="url(#vblur)"/>
<circle cx="1231" cy="130" r="29" fill="#7c63d8" filter="url(#vblur)"/>
<path d="M1906.7 140L1886.9 151.8L1896 172.9L1873.1 170.8L1868 193.3L1850.7 178.1L1833.4 193.3L1828.3 170.8L1805.4 172.9L1814.5 151.8L1794.7 140L1814.5 128.2L1805.4 107.1L1828.3 109.2L1833.4 86.7L1850.7 101.9L1868 86.7L1873.1 109.2L1896 107.1L1886.9 128.2Z" fill="#f0a3ae" opacity=".85" filter="url(#vblur)"/>
<circle cx="1851" cy="140" r="31" fill="#e0788c" filter="url(#vblur)"/>
<path d="M1980.7 730L1963 740.5L1971.2 759.4L1950.7 757.5L1946.2 777.6L1930.7 764L1915.2 777.6L1910.7 757.5L1890.2 759.4L1898.4 740.5L1880.7 730L1898.4 719.5L1890.2 700.6L1910.7 702.5L1915.2 682.4L1930.7 696L1946.2 682.4L1950.7 702.5L1971.2 700.6L1963 719.5Z" fill="#9a84e6" opacity=".85" filter="url(#vblur)"/>
<circle cx="1931" cy="730" r="28" fill="#7c63d8" filter="url(#vblur)"/>
<path d="M285 485C276.7 497.5 248.3 530.8 235 560C221.7 589.2 211.7 625 205 660C198.3 695 196.7 751.7 195 770" stroke="#6fa9a6" stroke-width="7" fill="none" stroke-linecap="round"/>
<path d="M240 495C233.3 505.8 209.7 537.5 200 560C190.3 582.5 185 618.3 182 630" stroke="#6fa9a6" stroke-width="6" fill="none" stroke-linecap="round"/>
<g filter="url(#vblur)" opacity=".65">
<path d="M930 520 L1080 500 M940 560 L1090 575 M935 600 L1060 630 M1040 510 l40 8 M1050 580 l35 6" stroke="#cfd4f5" stroke-width="10" fill="none" stroke-linecap="round"/>
<path d="M800 880 L960 850 M810 930 L980 960 M800 960 L840 1030 M950 920 l25 40 M860 970 l30 10" stroke="#cfd4f5" stroke-width="10" fill="none" stroke-linecap="round"/>
</g>
<path d="M800 520C800 520 836.7 573.3 850 600C863.3 626.7 868.8 656.7 880 680C891.2 703.3 917 740 917 740C917 740 897.8 784.7 880 800C862.2 815.3 830 832 810 832C790 832 771.7 822 760 800C748.3 778 733.3 746.7 740 700C746.7 653.3 800 520 800 520Z" fill="#4b5354" stroke="#2c3436" stroke-width="9" stroke-linejoin="round"/>
<path d="M345 790C345 790 305.8 816.7 290 840C274.2 863.3 257.5 896.7 250 930C242.5 963.3 241.7 996.7 245 1040C248.3 1083.3 270 1190 270 1190C270 1190 301.7 1216.7 330 1225C358.3 1233.3 405 1241.7 440 1240C475 1238.3 508.3 1226.7 540 1215C571.7 1203.3 630 1170 630 1170C630 1170 615 1091.7 610 1060C605 1028.3 595 1006.7 600 980C605 953.3 633.3 925 640 900C646.7 875 653.3 848.3 640 830C626.7 811.7 609.2 796.7 560 790C510.8 783.3 345 790 345 790Z" fill="#7d888b" stroke="#2c3436" stroke-width="10" stroke-linejoin="round"/>
<path d="M525 800L610 790L600 900L540 930L515 880Z" fill="#f4f6f5" stroke="#9fb0b0" stroke-width="4"/>
<path d="M540 760L640 760L630 830L570 820Z" fill="#eec9c8"/>
<path d="M470 840C475 833.3 490.8 804.2 500 800C509.2 795.8 521.7 801.7 525 815C528.3 828.3 524.2 860.8 520 880C515.8 899.2 503.3 921.7 500 930" fill="#6f7a7d" stroke="#2c3436" stroke-width="8"/>
<path d="M640 790C640 790 660 815 660 830C660 845 651.7 863.3 640 880C628.3 896.7 604.2 926.7 590 930C575.8 933.3 555 913.3 555 900C555 886.7 575.8 868.3 590 850C604.2 831.7 640 790 640 790Z" fill="#6f7a7d" stroke="#2c3436" stroke-width="8" stroke-linejoin="round"/>
<path d="M400 860C399.2 870 396.7 899.2 395 920C393.3 940.8 380.8 978.3 390 985C399.2 991.7 428.3 968.3 450 960C471.7 951.7 508.3 939.2 520 935" fill="none" stroke="#2c3436" stroke-width="9" stroke-linecap="round"/>
<path d="M290 1000C293.3 1010 291.7 1048.3 310 1060C328.3 1071.7 371.7 1073.3 400 1070C428.3 1066.7 459.2 1050 480 1040C500.8 1030 517.5 1015 525 1010" fill="none" stroke="#2c3436" stroke-width="9" stroke-linecap="round"/>
<path d="M525 930C531.7 915.8 558.3 905 570 905C581.7 905 591.7 918.3 595 930C598.3 941.7 595.8 963.3 590 975C584.2 986.7 570 997.5 560 1000C550 1002.5 535.8 1001.7 530 990C524.2 978.3 518.3 944.2 525 930Z" fill="#fce8e2" stroke="#2c3436" stroke-width="8"/>
<path d="M512 930L530 925L540 995L522 1000Z" fill="#f4f6f5" stroke="#8a9a9a" stroke-width="3"/>
<path d="M650 850C650 850 770 865 770 865C770 865 772.2 900 768 920C763.8 940 756.3 972.5 745 985C733.7 997.5 713.3 999.2 700 995C686.7 990.8 675 975.8 665 960C655 944.2 642.5 918.3 640 900C637.5 881.7 650 850 650 850Z" fill="#7d888b" stroke="#2c3436" stroke-width="9" stroke-linejoin="round"/>
<circle cx="512" cy="1093" r="12" fill="#7d888b" stroke="#2c3436" stroke-width="5"/>
<path d="M270 1180 Q440 1250 625 1165" stroke="#2c3436" stroke-width="7" fill="none"/>
<path d="M540 470C560.8 440 610 440 650 440C690 440 749.7 450 780 470C810.3 490 823.7 525 832 560C840.3 595 837 646.7 830 680C823 713.3 811.7 741.7 790 760C768.3 778.3 731.7 786.7 700 790C668.3 793.3 625.8 790 600 780C574.2 770 557.5 756.7 545 730C532.5 703.3 525.8 663.3 525 620C524.2 576.7 519.2 500 540 470Z" fill="#fce8e2" stroke="#2c3436" stroke-width="7"/>
<ellipse cx="590" cy="640" rx="40" ry="28" fill="#f8cfd3" opacity=".7" filter="url(#vblur)"/>
<ellipse cx="780" cy="650" rx="35" ry="28" fill="#f8cfd3" opacity=".7" filter="url(#vblur)"/>
<path d="M580 565 Q610 580 642 566 M776 585 Q800 602 822 592" stroke="#222" stroke-width="14" fill="none" stroke-linecap="round"/>
<path d="M590 520 Q620 505 650 515 M770 535 Q795 535 815 550" stroke="#444" stroke-width="5" fill="none" stroke-linecap="round"/>
<path d="M650 690C655.8 676.3 676.7 668 690 668C703.3 668 722.5 678 730 690C737.5 702 740 727.5 735 740C730 752.5 713.3 763.3 700 765C686.7 766.7 663.3 762.5 655 750C646.7 737.5 644.2 703.7 650 690Z" fill="#3a2a2e" stroke="#2c3436" stroke-width="4"/>
<path d="M645 715C650 705.5 668.3 695 680 695C691.7 695 708.3 705.8 715 715C721.7 724.2 724.2 741.2 720 750C715.8 758.8 701.7 767.7 690 768C678.3 768.3 657.5 760.8 650 752C642.5 743.2 640 724.5 645 715Z" fill="#ea7a9c"/>
<path d="M655 770C658.3 752.5 675.8 744.2 690 740C704.2 735.8 727.5 736.7 740 745C752.5 753.3 762.5 773.3 765 790C767.5 806.7 763.3 832.5 755 845C746.7 857.5 729.2 865 715 865C700.8 865 680 860.8 670 845C660 829.2 651.7 787.5 655 770Z" fill="#fce8e2" stroke="#2c3436" stroke-width="8"/>
<path d="M620 278C668.3 274.7 721.7 283 760 300C798.3 317 829.2 355 850 380C870.8 405 873.8 426.7 885 450C896.2 473.3 917 520 917 520C917 520 884.5 543.3 870 545C855.5 546.7 830 530 830 530C830 530 820 535 815 540C810 545 800 560 800 560C800 560 773.3 530 760 520C746.7 510 730.8 508.3 720 500C709.2 491.7 695 470 695 470C695 470 657.5 493.3 640 500C622.5 506.7 606.7 508 590 510C573.3 512 540 512 540 512C540 512 526.7 568.7 525 600C523.3 631.3 526.7 668.3 530 700C533.3 731.7 545 790 545 790C545 790 504.2 801.7 480 800C455.8 798.3 421.7 784.7 400 780C378.3 775.3 350 772 350 772C350 772 337.5 715.3 335 680C332.5 644.7 329.2 601.7 335 560C340.8 518.3 347.5 470 370 430C392.5 390 428.3 345.3 470 320C511.7 294.7 571.7 281.3 620 278Z" fill="#4b5354" stroke="#2c3436" stroke-width="9" stroke-linejoin="round"/>
<path d="M400 420C408.3 413.3 426.7 390.8 450 380C473.3 369.2 525 359.2 540 355" stroke="#b9c0c0" stroke-width="9" fill="none" stroke-linecap="round"/>
<path d="M1455.7 830C1455.7 830 1420.7 871.7 1415.7 900C1410.7 928.3 1425.7 966.7 1425.7 1000C1425.7 1033.3 1420.7 1071.7 1415.7 1100C1410.7 1128.3 1395.7 1150.8 1395.7 1170C1395.7 1189.2 1394 1201.7 1415.7 1215C1437.4 1228.3 1487.4 1244.2 1525.7 1250C1564 1255.8 1610.7 1252.5 1645.7 1250C1680.7 1247.5 1719 1246.7 1735.7 1235C1752.4 1223.3 1745.7 1180 1745.7 1180C1745.7 1180 1813.2 1130 1825.7 1100C1838.2 1070 1829 1030 1820.7 1000C1812.4 970 1796.5 943.3 1775.7 920C1754.9 896.7 1724 877.5 1695.7 860C1667.4 842.5 1605.7 815 1605.7 815C1605.7 815 1455.7 830 1455.7 830Z" fill="#434b4f" stroke="#2c3436" stroke-width="10" stroke-linejoin="round"/>
<path d="M1213.7 690C1213.7 690 1335.7 650 1335.7 650C1335.7 650 1360.7 715 1375.7 740C1390.7 765 1407.4 781.7 1425.7 800C1444 818.3 1479 823.3 1485.7 850C1492.4 876.7 1477.4 935 1465.7 960C1454 985 1415.7 1000 1415.7 1000C1415.7 1000 1362.4 933.3 1335.7 900C1309 866.7 1276 835 1255.7 800C1235.4 765 1213.7 690 1213.7 690Z" fill="#434b4f" stroke="#2c3436" stroke-width="10" stroke-linejoin="round"/>
<path d="M1515.7 820L1615.7 810L1605.7 900L1555.7 980L1525.7 900Z" fill="#f4f6f5" stroke="#9fb0b0" stroke-width="4"/>
<path d="M1530.7 850L1563.7 848L1565.7 930L1540.7 985L1525.7 930Z" fill="#3f7fd0" stroke="#2a5a9a" stroke-width="4"/>
<path d="M1525.7 790L1605.7 790L1600.7 830L1535.7 835Z" fill="#e9bfc4"/>
<path d="M1465.7 830C1472.4 824.7 1497.7 824 1505.7 840C1513.7 856 1521.7 927.3 1525.7 950C1529.7 972.7 1541 1008.7 1535.7 1010C1530.4 1011.3 1496.4 977.3 1485.7 960C1475 942.7 1458.4 897.3 1455.7 880C1453 862.7 1459 835.3 1465.7 830Z" fill="#3a4246" stroke="#2c3436" stroke-width="8" stroke-linejoin="round"/>
<path d="M1615.7 815C1623.7 815 1659.4 862 1660.7 880C1662 898 1641.7 932 1625.7 950C1609.7 968 1549.4 1015 1540.7 1015C1532 1015 1552.7 968 1560.7 950C1568.7 932 1593.4 898 1600.7 880C1608 862 1607.7 815 1615.7 815Z" fill="#3a4246" stroke="#2c3436" stroke-width="8" stroke-linejoin="round"/>
<path d="M1605.7 1060C1605.7 1060 1657.4 1050 1685.7 1040C1714 1030 1752.4 1005 1775.7 1000C1799 995 1816.5 996.7 1825.7 1010C1834.9 1023.3 1837.4 1060 1830.7 1080C1824 1100 1808.2 1116.7 1785.7 1130C1763.2 1143.3 1725.7 1153.3 1695.7 1160C1665.7 1166.7 1605.7 1170 1605.7 1170C1605.7 1170 1605.7 1060 1605.7 1060Z" fill="#434b4f" stroke="#2c3436" stroke-width="9" stroke-linejoin="round"/>
<path d="M1567.7 1060L1605.7 1058L1607.7 1170L1573.7 1172Z" fill="#f4f6f5" stroke="#8a9a9a" stroke-width="4"/>
<path d="M1505.7 1085C1510.7 1075 1524.9 1071.7 1535.7 1070C1546.5 1068.3 1564 1060 1570.7 1075C1577.4 1090 1581.5 1145.5 1575.7 1160C1569.9 1174.5 1547.4 1167 1535.7 1162C1524 1157 1510.7 1142.8 1505.7 1130C1500.7 1117.2 1500.7 1095 1505.7 1085Z" fill="#fce8e2" stroke="#2c3436" stroke-width="8"/>
<path d="M1775.7 500C1782.4 481.7 1805.4 485 1815.7 490C1826 495 1835.2 513.3 1837.7 530C1840.2 546.7 1836.9 575 1830.7 590C1824.5 605 1809.9 618.3 1800.7 620C1791.5 621.7 1779.9 620 1775.7 600C1771.5 580 1769 518.3 1775.7 500Z" fill="#fce8e2" stroke="#2c3436" stroke-width="8"/>
<path d="M1545.7 235C1595.7 235 1647.4 252.5 1685.7 280C1724 307.5 1757.4 356.7 1775.7 400C1794 443.3 1797.4 496.7 1795.7 540C1794 583.3 1784 626.7 1765.7 660C1747.4 693.3 1715.7 718.3 1685.7 740C1655.7 761.7 1619 780.8 1585.7 790C1552.4 799.2 1519 801.7 1485.7 795C1452.4 788.3 1413.2 772.5 1385.7 750C1358.2 727.5 1336.5 695 1320.7 660C1304.9 625 1294 583.3 1290.7 540C1287.4 496.7 1284.9 443.3 1300.7 400C1316.5 356.7 1344.9 307.5 1385.7 280C1426.5 252.5 1495.7 235 1545.7 235Z" fill="#fce8e2" stroke="#2c3436" stroke-width="8"/>
<ellipse cx="1536" cy="590" rx="120" ry="45" fill="#f9d3d6" opacity=".7" filter="url(#vblur)"/>
<path d="M1265.7 540C1265.7 540 1255.4 478.3 1260.7 445C1266 411.7 1281.5 370.5 1297.7 340C1313.9 309.5 1332.2 284 1357.7 262C1383.2 240 1417.7 220 1450.7 208C1483.7 196 1519 189.3 1555.7 190C1592.4 190.7 1637 198.7 1670.7 212C1704.4 225.3 1732.2 245 1757.7 270C1783.2 295 1809.4 333.7 1823.7 362C1838 390.3 1842.5 418.7 1843.7 440C1844.9 461.3 1830.7 490 1830.7 490C1830.7 490 1809.9 483.3 1800.7 485C1791.5 486.7 1783.2 495.5 1775.7 500C1768.2 504.5 1755.7 512 1755.7 512C1755.7 512 1732.4 488.7 1725.7 470C1719 451.3 1722.4 423.3 1715.7 400C1709 376.7 1700.7 350.8 1685.7 330C1670.7 309.2 1647.4 287.5 1625.7 275C1604 262.5 1582.4 257.5 1555.7 255C1529 252.5 1495.7 254.2 1465.7 260C1435.7 265.8 1399.9 276.7 1375.7 290C1351.5 303.3 1334 318.3 1320.7 340C1307.4 361.7 1300.7 393.3 1295.7 420C1290.7 446.7 1295.7 480 1290.7 500C1285.7 520 1265.7 540 1265.7 540Z" fill="#3c4344" stroke="#2c3436" stroke-width="9" stroke-linejoin="round"/>
<path d="M1223.7 618L1330.7 602L1337.7 652L1218.7 672Z" fill="#f4f6f5" stroke="#5a6a6a" stroke-width="5"/>
<path d="M1233.7 615C1217 606.7 1235.4 576.7 1243.7 562C1252 547.3 1269.2 533.7 1283.7 527C1298.2 520.3 1319 516.5 1330.7 522C1342.4 527.5 1351.5 545 1353.7 560C1355.9 575 1363.7 602.8 1343.7 612C1323.7 621.2 1250.4 623.3 1233.7 615Z" fill="#fce8e2" stroke="#2c3436" stroke-width="9"/>
<path d="M1350.7 345L1540.7 275L1555.7 382L1362.7 455Z" fill="#a9d5ea" stroke="#eef7fb" stroke-width="8" stroke-linejoin="round"/>
<path d="M1347.7 342L1543.7 272L1558.7 385L1360.7 459Z" fill="none" stroke="#7fa9bb" stroke-width="3" stroke-linejoin="round"/>
<path d="M1526 412 Q1566 425 1606 418 Q1636 405 1668 415" stroke="#333" stroke-width="6" fill="none" stroke-linecap="round"/>
<path d="M1583 478 L1671 478" stroke="#222" stroke-width="14" fill="none" stroke-linecap="round"/>
<path d="M1354 545 L1414 518" stroke="#222" stroke-width="14" fill="none" stroke-linecap="round"/>
<path d="M1336 495 Q1366 470 1401 455" stroke="#555" stroke-width="5" fill="none"/>
<path d="M1543.7 540C1549.2 540 1564 566.7 1570.7 580C1577.4 593.3 1584.9 609.7 1583.7 620C1582.5 630.3 1570.9 641.2 1563.7 642C1556.5 642.8 1545 635.3 1540.7 625C1536.4 614.7 1537.2 594.2 1537.7 580C1538.2 565.8 1538.2 540 1543.7 540Z" fill="#d9eef8" stroke="#8ec3dd" stroke-width="5"/>
<path d="M1457.7 745C1456.9 729 1466 712.8 1480.7 702C1495.4 691.2 1525.7 679.5 1545.7 680C1565.7 680.5 1586.5 691.7 1600.7 705C1614.9 718.3 1629.9 745.8 1630.7 760C1631.5 774.2 1629.9 783.7 1605.7 790C1581.5 796.3 1510.4 805.5 1485.7 798C1461 790.5 1458.5 761 1457.7 745Z" fill="#e9688c" stroke="#2c3436" stroke-width="8"/>
<path d="M1480.7 730C1488.2 725.8 1508.2 707.5 1525.7 705C1543.2 702.5 1571.5 706.7 1585.7 715C1599.9 723.3 1606.5 748.3 1610.7 755" stroke="#f4a0b6" stroke-width="10" fill="none" stroke-linecap="round"/>
<path d="M1211 335 l-15 40 l12 30 l-14 65" stroke="#bfdcee" stroke-width="7" fill="none"/>
<path d="M1758 192 l35 40 l20 5 l40 45" stroke="#bfdcee" stroke-width="7" fill="none"/>
<path d="M1808 870 l30 45 l25 45" stroke="#bfdcee" stroke-width="7" fill="none"/>
<path d="M1366 1005 l12 40 l-14 50" stroke="#bfdcee" stroke-width="7" fill="none"/>
</g>

<!-- CYBER main -->
<g transform="translate(1560 1000) scale(0.20979)" >
<ellipse cx="262" cy="1243" rx="60" ry="24" fill="#f0a862" stroke="#1f2428" stroke-width="7"/>
<path d="M350 930C360 900 385 905.8 420 900C455 894.2 513.3 892.5 560 895C606.7 897.5 665 899.2 700 915C735 930.8 750.8 960.8 770 990C789.2 1019.2 806.7 1058.3 815 1090C823.3 1121.7 824.2 1151.7 820 1180C815.8 1208.3 806.7 1240 790 1260C773.3 1280 748.3 1293.3 720 1300C691.7 1306.7 653.3 1306.7 620 1300C586.7 1293.3 553.3 1276.7 520 1260C486.7 1243.3 446.7 1230 420 1200C393.3 1170 371.7 1125 360 1080C348.3 1035 340 960 350 930Z" fill="#3f464d" stroke="#1f2428" stroke-width="12" stroke-linejoin="round"/>
<path d="M740 960C748.3 960 788.3 1041.7 800 1080C811.7 1118.3 815 1158.3 810 1190C805 1221.7 788.3 1252 770 1270C751.7 1288 705 1309.7 700 1298C695 1286.3 731.7 1236.3 740 1200C748.3 1163.7 750 1120 750 1080C750 1040 731.7 960 740 960Z" fill="#2c3238" opacity=".8"/>
<path d="M468 925L600 928L570 985L525 1040L490 990Z" fill="#bfe4ea" stroke="#1f2428" stroke-width="5" stroke-linejoin="round"/>
<path d="M490 928L530 928L535 965L520 1060L498 1005L488 965Z" fill="#d9305f" stroke="#8a1f3f" stroke-width="4" stroke-linejoin="round"/>
<path d="M540 1020L600 940L625 1000L560 1060L600 1055L520 1085Z" fill="#363d44" stroke="#1f2428" stroke-width="5" stroke-linejoin="round"/>
<path d="M65 932L462 960L535 1250L150 1218Z" fill="#97a2a7" stroke="#1f2428" stroke-width="11" stroke-linejoin="round"/>
<path d="M72 938L458 965L470 1000L90 975Z" fill="#c6cfd3" opacity=".9"/>
<path d="M440 965L462 962L535 1248L512 1245Z" fill="#c6cfd3"/>
<path d="M510 1200L600 1215L602 1252L530 1252Z" fill="#b7c1c6" stroke="#1f2428" stroke-width="6" stroke-linejoin="round"/>
<path d="M690 1150C697.5 1138.3 724.7 1148.3 735 1160C745.3 1171.7 751.2 1199.2 752 1220C752.8 1240.8 748.7 1272 740 1285C731.3 1298 708.3 1307.2 700 1298C691.7 1288.8 691.7 1254.7 690 1230C688.3 1205.3 682.5 1161.7 690 1150Z" fill="#f3f7f7" stroke="#1f2428" stroke-width="9"/>
<path d="M585 1200C593.3 1182.5 612.5 1167.5 630 1160C647.5 1152.5 676.3 1148.3 690 1155C703.7 1161.7 708.3 1182.5 712 1200C715.7 1217.5 715.7 1243.7 712 1260C708.3 1276.3 705.3 1291.3 690 1298C674.7 1304.7 638.3 1305.5 620 1300C601.7 1294.5 585.8 1281.7 580 1265C574.2 1248.3 576.7 1217.5 585 1200Z" fill="#f2b36c" stroke="#1f2428" stroke-width="10"/>
<path d="M235 700C235 668.3 242.5 633.3 260 610C277.5 586.7 288.3 570.8 340 560C391.7 549.2 493.3 545 570 545C646.7 545 746.7 547.5 800 560C853.3 572.5 870.8 593.3 890 620C909.2 646.7 915 685 915 720C915 755 909.2 800 890 830C870.8 860 840 884.2 800 900C760 915.8 703.3 921.7 650 925C596.7 928.3 531.7 927.5 480 920C428.3 912.5 376.7 900 340 880C303.3 860 277.5 830 260 800C242.5 770 235 731.7 235 700Z" fill="#e9a55e" stroke="#1f2428" stroke-width="12" stroke-linejoin="round"/>
<path d="M260 700C276.7 690.8 343.3 710.8 400 715C456.7 719.2 533.3 724.2 600 725C666.7 725.8 750 724.2 800 720C850 715.8 884.2 688.3 900 700C915.8 711.7 928.3 776.7 895 790C861.7 803.3 765.8 783.3 700 780C634.2 776.7 566.7 771.7 500 770C433.3 768.3 340 781.7 300 770C260 758.3 243.3 709.2 260 700Z" fill="#f6cf99" opacity=".75"/>
<path d="M350 570 Q330 640 345 720 M850 600 Q880 700 850 830 M700 560 Q720 640 705 720 M790 770 Q800 830 760 890" stroke="#b97838" stroke-width="5" fill="none"/>
<path d="M265 585L440 650L345 725Z" fill="#fff" stroke="#1f2428" stroke-width="10" stroke-linejoin="round"/>
<path d="M585 655L835 625L670 768Z" fill="#fff" stroke="#1f2428" stroke-width="10" stroke-linejoin="round"/>
<path d="M285 730L380 792L442 765L470 802L540 775L590 822L640 795L700 832L802 785L745 900L640 915L520 912L400 890L320 850Z" fill="#fff" stroke="#1f2428" stroke-width="10" stroke-linejoin="round"/>
<ellipse cx="592" cy="492" rx="414" ry="98" fill="#6d767b" stroke="#1f2428" stroke-width="12" transform="rotate(5 592 492)"/>
<path d="M700 560C715 552.5 806.7 551.7 850 545C893.3 538.3 935 520.8 960 520C985 519.2 1010 529.2 1000 540C990 550.8 940 576.7 900 585C860 593.3 793.3 594.2 760 590C726.7 585.8 685 567.5 700 560Z" fill="#555d63" opacity=".7"/>
<path d="M360 140C360 140 395 480 395 480C395 480 462.5 510.8 500 520C537.5 529.2 572.5 537.5 620 535C667.5 532.5 785 505 785 505C785 505 885 168 885 168C885 168 814.2 110 760 95C705.8 80 616.7 77.2 560 78C503.3 78.8 453.3 89.7 420 100C386.7 110.3 360 140 360 140Z" fill="#474f56" stroke="#1f2428" stroke-width="12" stroke-linejoin="round"/>
<path d="M740 180C740 180 885 170 885 170C885 170 856.7 285 840 340C823.3 395 785 500 785 500C785 500 720 515 720 515C720 515 731.7 405.8 735 350C738.3 294.2 740 180 740 180Z" fill="#2d3338"/>
<ellipse cx="622" cy="140" rx="262" ry="58" fill="#6f787d" stroke="#1f2428" stroke-width="6" transform="rotate(4 622 140)"/>
<path d="M390 420C390 420 458.3 450.8 500 460C541.7 469.2 592.5 474.7 640 475C687.5 475.3 785 462 785 462C785 462 778 530 778 530C778 530 686.3 545.3 640 545C593.7 544.7 540.8 536.3 500 528C459.2 519.7 395 495 395 495C395 495 390 420 390 420Z" fill="#e93a72" stroke="#1f2428" stroke-width="5" stroke-linejoin="round"/>
<path d="M700 472C700 472 785 462 785 462C785 462 778 530 778 530C778 530 705 540 705 540C705 540 700 472 700 472Z" fill="#c22a5c"/>
</g>
<!-- CYBER left monster -->
<g transform="translate(1470 990) scale(0.12299)" >
<path d="M620 350C614.2 338.3 591.7 306.7 585 280C578.3 253.3 580.8 205 580 190" stroke="#1f3a40" stroke-width="13" fill="none"/>
<path d="M450 500C438.3 491.7 408.3 459.2 380 450C351.7 440.8 296.7 445.8 280 445" stroke="#1f3a40" stroke-width="13" fill="none"/>
<circle cx="596" cy="140" r="50" fill="#e2516f" stroke="#1f2428" stroke-width="14"/>
<circle cx="232" cy="455" r="45" fill="#e2516f" stroke="#1f2428" stroke-width="14"/>
<path d="M300 660C307.5 649.5 266.5 696.8 340 630C413.5 563.2 715 279.5 790 215C865 150.5 825.8 198.5 840 200C854.2 201.5 846.8 186 885 225C923.2 264 1061 418.8 1095 460C1129 501.2 1112.8 488 1112 500C1111.2 512 1100.8 531 1090 540C1079.2 549 1052 551 1040 560C1028 569 1011.5 586.5 1010 600C1008.5 613.5 1030 635 1030 650C1030 665 1020.5 689.5 1010 700C999.5 710.5 975 720 960 720C945 720 922 700 910 700C898 700 896.5 706.5 880 720C863.5 733.5 813.5 773.5 800 790C786.5 806.5 790 816.5 790 830C790 843.5 804.5 866.5 800 880C795.5 893.5 775 914 760 920C745 926 716.5 922.2 700 920C683.5 917.8 663.5 902 650 905C636.5 908 619.8 927.2 610 940C600.2 952.8 594.8 981 585 990C575.2 999 557.8 1003 545 1000C532.2 997 535.2 1009 500 970C464.8 931 341.5 780.5 310 740C278.5 699.5 291.5 712 290 700C288.5 688 292.5 670.5 300 660Z" fill="#9b99f3" stroke="#1f2428" stroke-width="30" stroke-linejoin="round"/>
<path d="M680 480C680 480 718.3 420.8 740 400C761.7 379.2 794.2 355 810 355C825.8 355 831.7 382.5 835 400C838.3 417.5 839.2 443.3 830 460C820.8 476.7 798.3 492.5 780 500C761.7 507.5 736.7 508.3 720 505C703.3 501.7 680 480 680 480Z" fill="#fff" stroke="#1f2428" stroke-width="14" stroke-linejoin="round"/>
<path d="M435 700C435 700 476.7 640 500 620C523.3 600 558.7 578.3 575 580C591.3 581.7 595.5 611.7 598 630C600.5 648.3 599.7 673.3 590 690C580.3 706.7 558.3 722.5 540 730C521.7 737.5 497.5 740 480 735C462.5 730 435 700 435 700Z" fill="#fff" stroke="#1f2428" stroke-width="14" stroke-linejoin="round"/>
<path d="M590 760C594.7 752.7 628 746.3 640 745C652 743.7 652 772 680 750C708 728 828 610.7 850 580C872 549.3 841 532 845 520C849 508 869.3 490 880 490C890.7 490 918.3 509.3 925 520C931.7 530.7 960 534 930 570C900 606 737.3 757.3 700 790C662.7 822.7 662.7 813.7 650 815C637.3 816.3 613 807.3 605 800C597 792.7 585.3 767.3 590 760Z" fill="#fff" stroke="#1f2428" stroke-width="14" stroke-linejoin="round"/>
<path d="M365 1030C374.2 1041.7 394.2 1081.7 420 1100C445.8 1118.3 481.7 1133.3 520 1140C558.3 1146.7 628.3 1140 650 1140" stroke="#2f4a50" stroke-width="12" fill="none" stroke-linecap="round"/>
<path d="M385 1185C395.8 1191.7 425.8 1215.8 450 1225C474.2 1234.2 505.8 1240 530 1240C554.2 1240 584.2 1227.5 595 1225" stroke="#2f4a50" stroke-width="12" fill="none" stroke-linecap="round"/>
</g>
<!-- CYBER right monster -->
<g transform="translate(1740 1110) scale(0.10853)" >
<path d="M745 330 L770 250 M890 500 L1000 495" stroke="#1f3a40" stroke-width="9" fill="none"/>
<circle cx="772" cy="240" r="24" fill="#e2516f" stroke="#9a3a52" stroke-width="6"/>
<circle cx="1012" cy="495" r="25" fill="#e2516f" stroke="#9a3a52" stroke-width="6"/>
<rect x="-60" y="-75" width="120" height="150" rx="28" ry="28" transform="translate(418 635) rotate(-43)" fill="#c596f5" stroke="#1f2428" stroke-width="22"/>
<rect x="-55" y="-70" width="110" height="140" rx="28" ry="28" transform="translate(612 860) rotate(-43)" fill="#c596f5" stroke="#1f2428" stroke-width="22"/>
<rect x="-200" y="-335" width="400" height="670" rx="45" ry="45" transform="translate(687 580) rotate(-43.5)" fill="#c596f5" stroke="#1f2428" stroke-width="24"/>
<circle cx="630" cy="460" r="62" fill="#2a2a2a"/>
<circle cx="630" cy="460" r="38" fill="none" stroke="#6b665f" stroke-width="6"/>
<circle cx="630" cy="460" r="17" fill="none" stroke="#6b665f" stroke-width="5"/>
<circle cx="815" cy="650" r="66" fill="#2a2a2a"/>
<circle cx="815" cy="650" r="40" fill="none" stroke="#6b665f" stroke-width="6"/>
<circle cx="815" cy="650" r="18" fill="none" stroke="#6b665f" stroke-width="5"/>
<path d="M528 575C530.8 582.5 533 602.5 545 620C557 637.5 582.5 662.5 600 680C617.5 697.5 633.3 715.3 650 725C666.7 734.7 691.7 735.8 700 738" stroke="#2f3a55" stroke-width="9" fill="none" stroke-linecap="round"/>
<path d="M400 545 L455 510 M700 855 L760 805" stroke="#2f3a55" stroke-width="7" fill="none"/>
<path d="M990 950C989.2 963.3 995 1006.7 985 1030C975 1053.3 958.8 1072 930 1090C901.2 1108 831.7 1130 812 1138" stroke="#1f2f35" stroke-width="13" fill="none" stroke-linecap="round"/>
<path d="M1075 1120C1070.8 1129.2 1062.5 1158.3 1050 1175C1037.5 1191.7 1008.3 1212.5 1000 1220" stroke="#1f2f35" stroke-width="11" fill="none" stroke-linecap="round"/>
</g>

</svg>

<div class="pill"></div>
<svg class="titlesvg" width="972" height="83" viewBox="0 0 972 83" style="position:absolute;left:410px;top:13px;overflow:visible;">
  <text x="489" y="58" text-anchor="middle" font-family="'Liberation Sans','Noto Sans CJK JP',sans-serif" font-weight="700" font-size="45.6" letter-spacing="4.05" fill="#fff" stroke="#fff" stroke-width="2.1" stroke-linejoin="round" stroke-linecap="round" paint-order="stroke fill" transform="translate(487.5 0) scale(1.035 1) translate(-487.5 0)">万が一の時に備えたBCPの策定・更新</text>
</svg>

<div class="box" style="left:686px;top:262px;width:450px;height:146px;"><span>①事業を理解する</span></div>
<div class="box" style="left:1203px;top:563px;width:409px;height:146px;"><span>②<i>BCP</i>の準備事前<br>対策を検討</span></div>
<div class="box" style="left:1071px;top:851px;width:449px;height:146px;"><span>③<i>BCP</i>を策定</span></div>
<div class="box" style="left:349px;top:850px;width:449px;height:146px;"><span>④<i>BCP</i>文化を定着</span></div>
<div class="box" style="left:236px;top:563px;width:394px;height:146px;"><span>⑤<i>BCP</i>のテスト・<br>維持・更新</span></div>

<div class="bcp"><span>BCP</span></div>

<div class="lbl" style="left:103.5px;top:451px;">自然災害</div>
<div class="lbl" style="left:1582.5px;top:468.5px;">火災</div>
<div class="lbl" style="left:134px;top:1301.5px;">感染症</div>
<div class="lbl" style="left:1492.5px;top:1301.5px;">サイバー攻撃</div>

</div>
</body>
</html>
